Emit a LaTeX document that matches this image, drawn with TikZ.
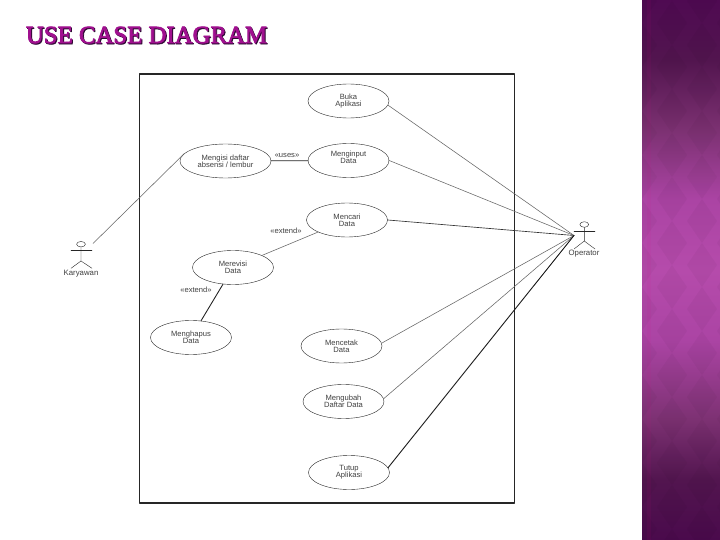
\documentclass[tikz,border=0pt]{standalone}
\usepackage{fontspec}
\setmainfont{Liberation Sans}
\newfontfamily\titlefont[FakeBold=3]{Liberation Serif}
\definecolor{titlefill}{HTML}{A0108F}
\definecolor{titleedge}{HTML}{2E0A33}
\pgfdeclareverticalshading{panelshade}{100bp}{
	color(0bp)=(rgb,255:red,74;green,10;blue,76);
	color(25bp)=(rgb,255:red,74;green,10;blue,76);
	color(30.56bp)=(rgb,255:red,82;green,21;blue,79);
	color(36.11bp)=(rgb,255:red,124;green,49;blue,114);
	color(43.52bp)=(rgb,255:red,171;green,68;blue,164);
	color(50bp)=(rgb,255:red,181;green,75;blue,171);
	color(56.48bp)=(rgb,255:red,171;green,68;blue,164);
	color(62.96bp)=(rgb,255:red,124;green,49;blue,114);
	color(69.44bp)=(rgb,255:red,82;green,21;blue,79);
	color(75bp)=(rgb,255:red,79;green,10;blue,82);
	color(100bp)=(rgb,255:red,79;green,10;blue,82)}
\tikzset{
	usecase/.style={draw=black!85, ellipse, minimum width=81pt, minimum height=34pt, inner sep=0pt, align=center, font=\fontsize{7.6}{7.2}\selectfont, text=black!75},
	assoc/.style={draw=black!60, line width=.55pt},
	stereo/.style={font=\fontsize{7.6}{8}\selectfont, text=black!75, inner sep=0pt},
	actorname/.style={font=\fontsize{7.8}{8}\selectfont, text=black!75, inner sep=0pt},
	titletext/.style={font=\titlefont\fontsize{24.8}{26}\selectfont, inner sep=0pt}
}
\usetikzlibrary{shapes.geometric}
\begin{document}
\begin{tikzpicture}[x=1pt, y=-1pt, line join=round, line cap=round]
	\useasboundingbox (0,0) rectangle (720,540);
	\fill[white] (0,0) rectangle (720,540);
	\shade[shading=panelshade] (642,0) rectangle (720,540);
	\begin{scope}
	\clip (642,0) rectangle (720,540);
	\fill[magenta, opacity=.06] (647,0) rectangle (651,540);
	\foreach \y in {-6,...,7}
	\foreach \x in {0,2}
	\fill[black, opacity=.03] (657+\x*30,\y*44+243) -- (672+\x*30,\y*44+221) -- (687+\x*30,\y*44+243) -- (672+\x*30,\y*44+265) -- cycle;
	\foreach \y in {-6,...,7}
	\foreach \x in {-1,1}
	\fill[black, opacity=.03] (657+\x*30,\y*44+221) -- (672+\x*30,\y*44+199) -- (687+\x*30,\y*44+221) -- (672+\x*30,\y*44+243) -- cycle;
	\end{scope}
	\node[titletext, text=titleedge] (titleback) at (147.5,36) {USE CASE DIAGRAM};
	\node[titletext, text=titlefill] (title) at (146.5,35) {USE CASE DIAGRAM};
	\draw[black!85, line width=1.1pt] (139.5,74) rectangle (514.5,503);
	\node[usecase] (buka) at (348.5,101) {Buka\\Aplikasi};
	\node[usecase, text depth=6pt] (input) at (348.5,160.5) {Menginput\\Data};
	\node[usecase, minimum width=91pt] (isi) at (225.5,161) {Mengisi daftar\\absensi / lembur};
	\node[usecase] (cari) at (347,220) {Mencari\\Data};
	\node[usecase] (revisi) at (233,267.5) {Merevisi\\Data};
	\node[usecase] (hapus) at (191,337.5) {Menghapus\\Data};
	\node[usecase] (cetak) at (341.5,346) {Mencetak\\Data};
	\node[usecase] (ubah) at (343.5,401.5) {Mengubah\\Daftar Data};
	\node[usecase] (tutup) at (349,472.5) {Tutup\\Aplikasi};
	\node[stereo] (uses) at (287,155) {«uses»};
	\node[stereo] (ext1) at (286,231) {«extend»};
	\node[stereo] (ext2) at (196,289.5) {«extend»};
	\draw[black!85] (81,244.2) ellipse (4.4 and 2.7);
	\draw[black!85] (71,250) -- (92,250);
	\draw[black!85] (81,247) -- (81,261) -- (71,268.3);
	\draw[black!85] (81,261) -- (92,268.3);
	\node[actorname] (karyawan) at (81,273.5) {Karyawan};
	\draw[black!85] (584.3,224.5) ellipse (4.4 and 2.8);
	\draw[black!85] (574,231) -- (595,231);
	\draw[black!85] (584.3,227.3) -- (584.3,241) -- (574,249);
	\draw[black!85] (584.3,241) -- (595,249);
	\node[actorname] (operator) at (584,254) {Operator};
	\coordinate (kary) at (93,243.5);
	\coordinate (oper) at (574,235.5);
	\draw[assoc] (kary) -- (isi.170);
	\draw[black!85, line width=.8pt] (isi) -- (input);
	\draw[assoc] (revisi) -- (cari);
	\draw[black!85, line width=.9pt] (revisi) -- (hapus);
	\draw[assoc] (buka.-6) -- (oper);
	\draw[assoc] (input.east) -- (oper);
	\foreach \n in {cetak, ubah}
	\draw[assoc] (\n.4) -- (oper);
	\draw[black!80, line width=.65pt] (cari.east) -- (oper);
	\draw[black!90, line width=.9pt] (tutup.7) -- (oper);
\end{tikzpicture}
\end{document}
